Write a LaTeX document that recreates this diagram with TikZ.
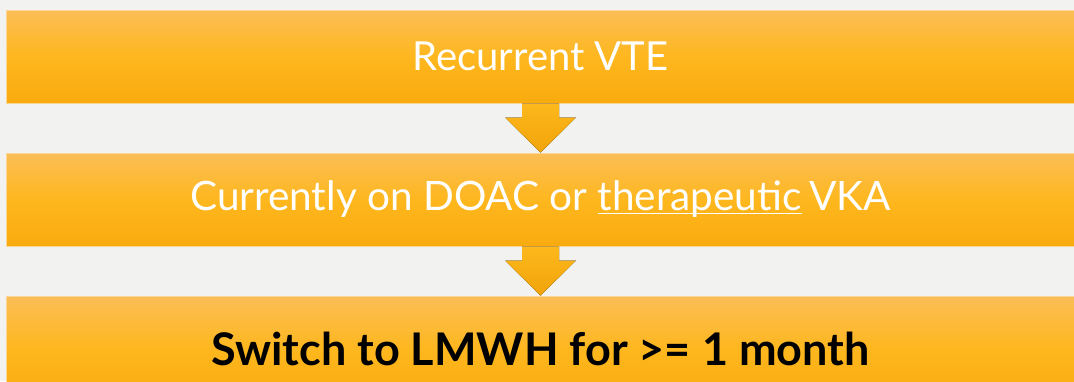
\documentclass[tikz,border=0pt]{standalone}
\usepackage{fontspec}
\setmainfont{Lato}
\usetikzlibrary{calc,positioning}

\definecolor{pagegray}{RGB}{242,242,240}
\definecolor{barlight}{RGB}{251,190,86}
\definecolor{barmid}{RGB}{254,183,30}
\definecolor{bardark}{RGB}{249,171,14}
\definecolor{barrim}{RGB}{252,214,150}
\definecolor{arrowtop}{RGB}{253,184,28}
\definecolor{arrowbot}{RGB}{241,164,10}

% underline that sits just under the baseline, crossed by descenders
\newcommand\lineunder[1]{\setbox0\hbox{#1}\rlap{\rule[-3.5pt]{\wd0}{1.8pt}}\box0\relax}

\begin{document}
\begin{tikzpicture}[x=1pt,y=-1pt,
  bar/.style={draw=barrim, line width=1pt, top color=barlight, bottom color=bardark,
    middle color=barmid, minimum width=1069pt, minimum height=93pt, inner sep=0pt,
    text=white},
  flowarrow/.style={top color=arrowtop, bottom color=arrowbot, draw=none}]
  \useasboundingbox (0,0) rectangle (1074,381);
  \fill[pagegray] (0,0) rectangle (1074,381);
  \clip (0,0) rectangle (1074,381);

  \node[bar, font=\fontsize{40}{46}\selectfont] (vte) at (540.5,56.5) {Recurrent VTE};
  \node[bar, font=\fontsize{40.5}{46}\selectfont, below=49pt of vte] (doac)
    {Currently on DOAC or \lineunder{therapeutic}\hspace{0.18em}VKA};
  \node[bar, minimum height=106pt, text=black, font=\bfseries\fontsize{45}{54}\selectfont,
    below=49pt of doac] (lmwh) {Switch to LMWH for >= 1 month};

  % down arrows between the bars
  \foreach \a/\b in {vte/doac, doac/lmwh}
    \fill[flowarrow] ($(\a.south)+(-18.5,0)$) -- ($(\a.south)+(18.5,0)$)
      -- ($(\b.north)+(18.5,-35)$) -- ($(\b.north)+(35.5,-35)$) -- (\b.north)
      -- ($(\b.north)+(-35.5,-35)$) -- ($(\b.north)+(-18.5,-35)$) -- cycle;
\end{tikzpicture}
\end{document}
